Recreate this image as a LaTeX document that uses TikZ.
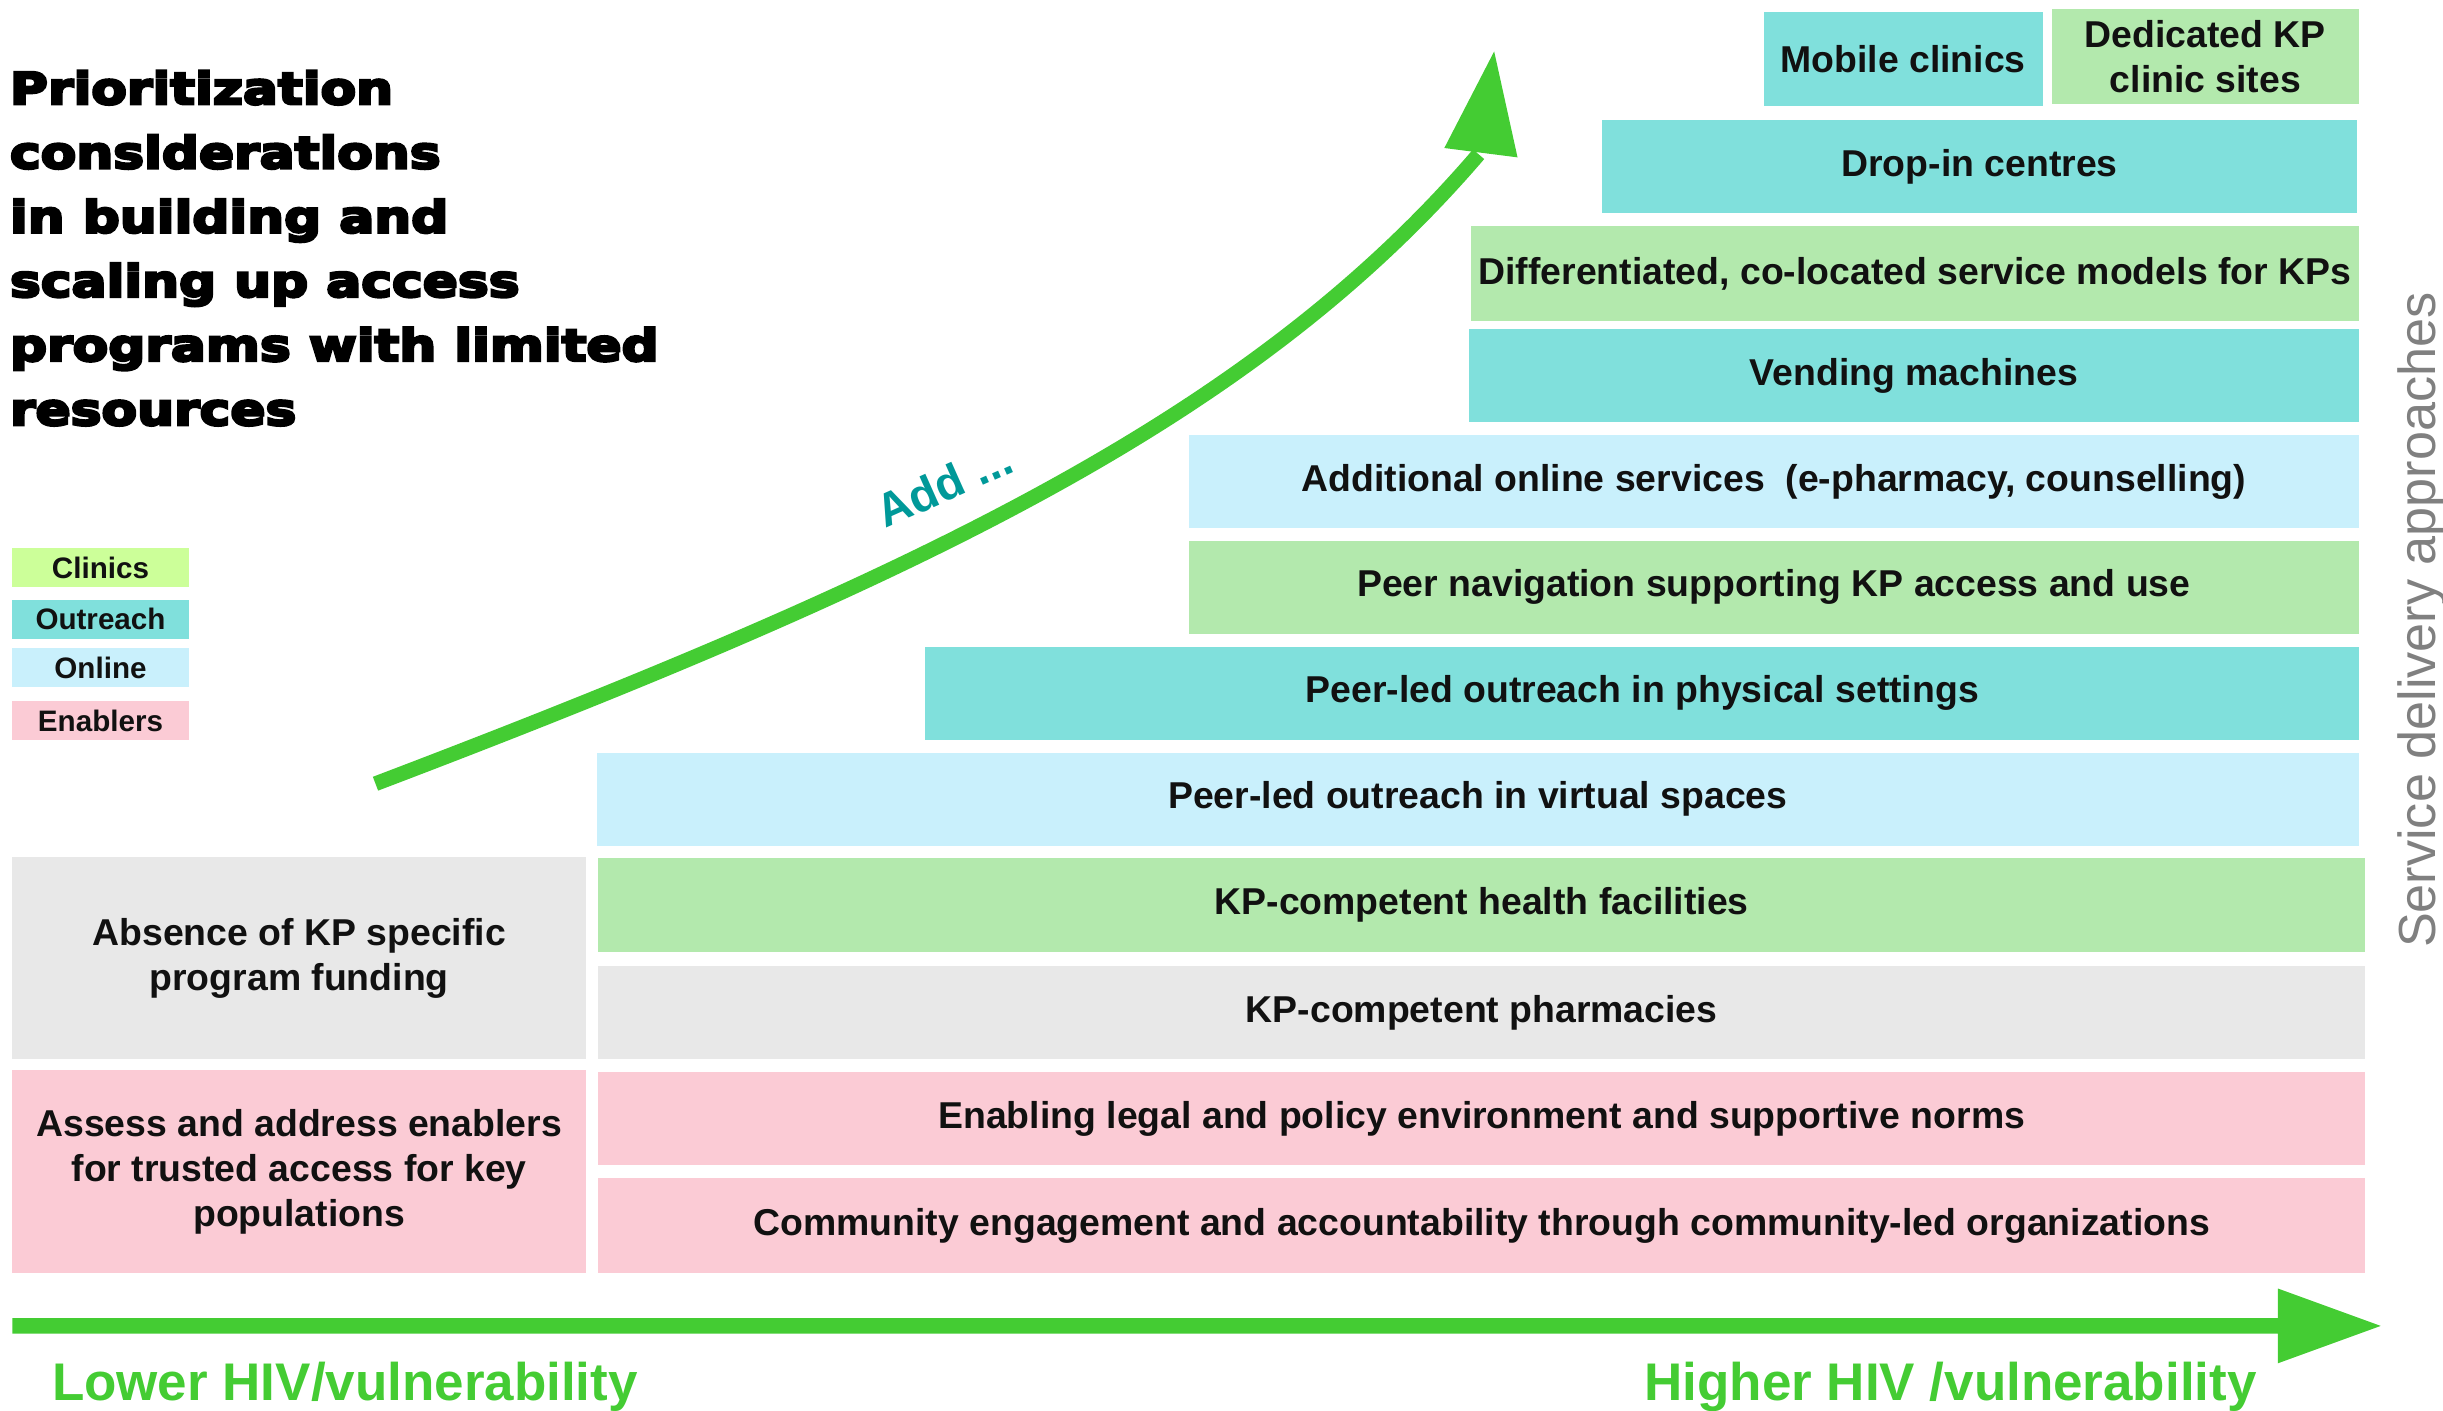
\documentclass[tikz,border=0pt]{standalone}
\usepackage{fontspec}
\setmainfont{Liberation Sans}
\newfontfamily\titlefont{DejaVu Sans Bold}[FakeStretch=1.18,FakeBold=6]
\definecolor{outreach}{HTML}{80E0DC}
\definecolor{online}{HTML}{C9F0FC}
\definecolor{clinic}{HTML}{B3E9AD}
\definecolor{clinicleg}{HTML}{CCFF99}
\definecolor{enabler}{HTML}{FBCBD5}
\definecolor{funding}{HTML}{E8E8E8}
\definecolor{arrowgreen}{HTML}{44CC33}
\definecolor{addteal}{HTML}{009999}
\definecolor{sidegray}{HTML}{808080}
\definecolor{ink}{HTML}{111111}
\begin{document}
\begin{tikzpicture}[x=0.5pt,y=-0.5pt,
  stackbox/.style={inner sep=0pt, draw=none, text=ink, align=center,
    font=\bfseries\fontsize{12}{14.5}\selectfont},
  legbox/.style={inner sep=0pt, draw=none, text=ink,
    minimum width=56.5pt, minimum height=12.5pt,
    font=\bfseries\fontsize{9.5}{11}\selectfont},
  titletext/.style={anchor=north west, inner sep=0pt, align=left,
    font=\titlefont\fontsize{14.1}{20.6}\selectfont},
  axislabel/.style={anchor=base west, inner sep=0pt, text=arrowgreen,
    font=\bfseries\fontsize{17}{20}\selectfont}]
\useasboundingbox (0,0) rectangle (1568,905.6);

% title
\node[titletext] (title) at (6,45) {Prioritization\\considerations\\in building and\\scaling up access\\programs with limited\\resources};

% legend
\node[legbox, fill=clinicleg] (lclin) at (64.5,364.5) {Clinics};
\node[legbox, fill=outreach] (lout) at (64.5,397.5) {Outreach};
\node[legbox, fill=online] (lonl) at (64.5,428.5) {Online};
\node[legbox, fill=enabler] (lena) at (64.5,462.5) {Enablers};

% left column
\node[stackbox, fill=funding, minimum width=184pt, minimum height=65pt] (funding) at (192,615) {Absence of KP specific\\program funding};
\node[stackbox, fill=enabler, minimum width=184pt, minimum height=65pt] (assess) at (192,752) {Assess and address enablers\\for trusted access for key\\populations};

% stack
\node[stackbox, fill=enabler, minimum width=567pt, minimum height=30.5pt] (community) at (951,786.5) {Community engagement and accountability through community-led organizations};
\node[stackbox, fill=enabler, minimum width=567pt, minimum height=30pt] (legal) at (951,718) {Enabling legal and policy environment and supportive norms};
\node[stackbox, fill=funding, minimum width=567pt, minimum height=30pt] (pharm) at (951,650) {KP-competent pharmacies};
\node[stackbox, fill=clinic, minimum width=567pt, minimum height=30pt] (health) at (951,581) {KP-competent health facilities};
\node[stackbox, fill=online, minimum width=565.5pt, minimum height=30pt] (virtual) at (948.5,513) {Peer-led outreach in virtual spaces};
\node[stackbox, fill=outreach, minimum width=460pt, minimum height=30pt] (physical) at (1054,445) {Peer-led outreach in physical settings};
\node[stackbox, fill=clinic, minimum width=375.5pt, minimum height=30pt] (nav) at (1138.5,377) {Peer navigation supporting KP access and use};
\node[stackbox, fill=online, minimum width=375.5pt, minimum height=30pt] (addonline) at (1138.5,309) {Additional online services\ \ (e-pharmacy, counselling)};
\node[stackbox, fill=outreach, minimum width=285.5pt, minimum height=30pt] (vending) at (1228.5,241) {Vending machines};
\node[stackbox, fill=clinic, minimum width=285pt, minimum height=30.5pt] (diff) at (1229,175.5) {Differentiated, co-located service models for KPs};
\node[stackbox, fill=outreach, minimum width=242.5pt, minimum height=30pt] (dropin) at (1270.5,107) {Drop-in centres};
\node[stackbox, fill=outreach, minimum width=89.5pt, minimum height=30pt] (mobile) at (1221.5,38) {Mobile clinics};
\node[stackbox, fill=clinic, minimum width=98.5pt, minimum height=30.5pt] (dedicated) at (1415.5,36.5) {Dedicated KP\\clinic sites};

% curved arrow
\coordinate (cs) at (241,503);
\coordinate (ce) at (949,99);
\draw[arrowgreen, line width=4.75pt] (cs) .. controls (596,368) and (806,266) .. (ce);
\fill[arrowgreen] (959,33) -- (974,101) -- (927,95) -- cycle;
\node[font=\bfseries\fontsize{15}{17}\selectfont, text=addteal, rotate=24, inner sep=0pt] (add) at (606,311) {Add ...};

% bottom arrow
\fill[arrowgreen] (8,846) -- (1462,846) -- (1462,827) -- (1528,851) -- (1462,875) -- (1462,856) -- (8,856) -- cycle;
\node[axislabel] (low) at (33,899) {Lower HIV/vulnerability};
\node[axislabel] (high) at (1055,899) {Higher HIV /vulnerability};

% side label
\node[font=\fontsize{16.75}{20}\selectfont, text=sidegray, rotate=90, anchor=base, inner sep=0pt] (sda) at (1563,398) {Service delivery approaches};
\end{tikzpicture}
\end{document}
